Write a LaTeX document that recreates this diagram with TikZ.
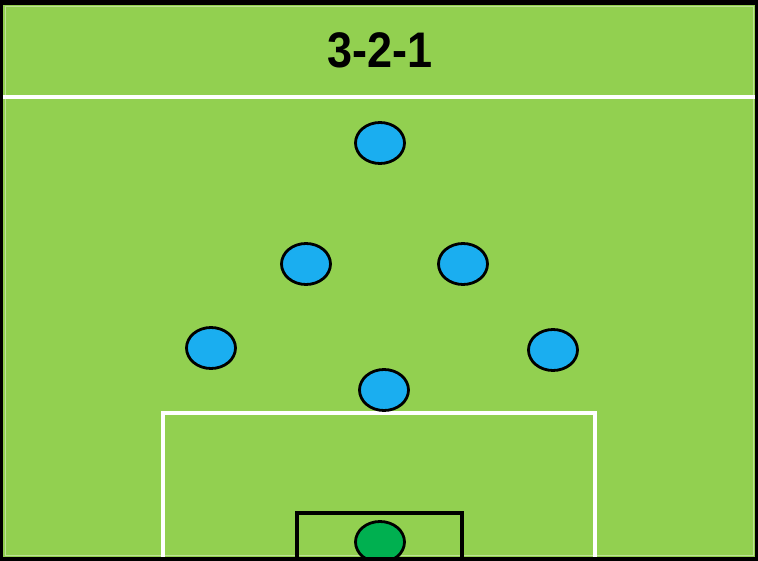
\documentclass[tikz,border=0pt]{standalone}
\usepackage{fontspec}
\setmainfont{Liberation Sans}
\usetikzlibrary{shapes.geometric}
\definecolor{pitch}{HTML}{92D050}
\definecolor{outfield}{HTML}{1AAEF0}
\definecolor{keeper}{HTML}{00B050}
\begin{document}
\begin{tikzpicture}[x=1pt, y=-1pt,
		player/.style={ellipse, draw=black, line width=2.8pt, fill=outfield, minimum width=49pt, minimum height=41pt, inner sep=0pt},
		keeperplayer/.style={player, fill=keeper},
		chalk/.style={draw=white, line width=3.5pt}]
		\useasboundingbox (0, 0) rectangle (758, 561);
		\fill[black] (0, 0) rectangle (758, 561);
		\fill[pitch] (3, 5) rectangle (755, 557);
		\draw[white, opacity=0.4, line width=1pt] (5, 7) rectangle (753, 555);

		\node[font=\bfseries\fontsize{50}{50}\selectfont, xscale=0.9] at (380, 50) (title) {3-2-1};
		\draw[chalk] (3, 97) -- (755, 97);

		% penalty area and goal area
		\draw[chalk] (163, 557) -- (163, 413) -- (595, 413) -- (595, 557);
		\draw[black, line width=3.5pt] (297, 557) -- (297, 513) -- (462, 513) -- (462, 557);

		\node[player] at (380, 143) (fwd) {};
		\node[player] at (306, 264) (midl) {};
		\node[player] at (463, 264) (midr) {};
		\node[player] at (211, 348) (defl) {};
		\node[player] at (553, 350) (defr) {};
		\node[player] at (384, 390) (defc) {};

		\begin{scope}
			\clip (3, 5) rectangle (755, 557);
			\node[keeperplayer] at (380, 542) (gk) {};
		\end{scope}
		\draw[black, line width=4pt] (0, 559) -- (758, 559);
	\end{tikzpicture}
\end{document}
